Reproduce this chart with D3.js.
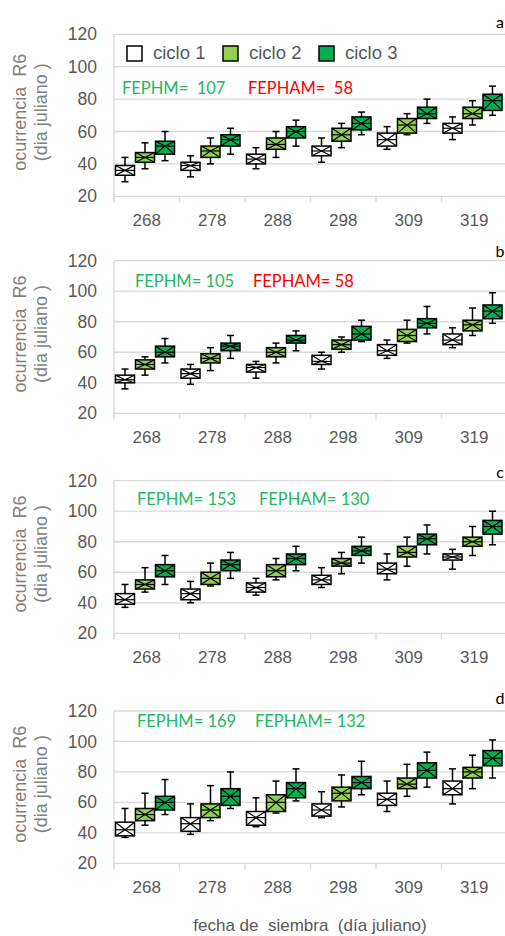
<!DOCTYPE html>
<html>
<head>
<meta charset="utf-8">
<script src="https://cdn.jsdelivr.net/npm/d3@7"></script>
<style>
  body { margin: 0; background: #fff; }
  svg text { white-space: pre; }
</style>
</head>
<body>
<div id="container"></div>
<script>
// categories (fecha de siembra) and series
const fechas = ["268", "278", "288", "298", "309", "319"]
const ciclos = ["ciclo 1", "ciclo 2", "ciclo 3"]
const yTicks = [20, 40, 60, 80, 100, 120]
const panelLetters = ["a", "b", "c", "d"]
const fephmLabels = ["FEPHM=  107", "FEPHM= 105", "FEPHM= 153", "FEPHM= 169"]
const fephamLabels = ["FEPHAM=  58", "FEPHAM= 58", "FEPHAM= 130", "FEPHAM= 132"]

// [min, q1, median, q3, max] per fecha
const a_c1 = [[29,33,36,39,44],[32,36,39,41,45],[37,40,43,46,50],[41,45,48,51,56],[49,51,55,59,63],[55,59,62,65,69]]
const a_c2 = [[37,41,44,47,53],[40,44,48,51,56],[44,49,52,56,60],[50,54,58,62,65],[58,59,64,68,71],[64,68,71,75,79]]
const a_c3 = [[42,46,51,54,60],[46,51,55,58,62],[51,56,60,63,67],[58,61,65,69,72],[65,68,71,75,80],[70,73,79,83,88]]

const b_c1 = [[36,40,42,45,49],[39,43,46,49,52],[43,47,50,52,54],[49,52,54,58,60],[56,58,61,65,68],[63,65,68,72,76]]
const b_c2 = [[45,49,52,55,57],[48,53,56,59,63],[53,57,60,63,66],[60,62,65,68,70],[66,67,71,75,81],[71,74,78,81,89]]
const b_c3 = [[53,57,60,64,69],[56,61,64,66,71],[61,66,68,71,74],[67,68,72,77,81],[72,76,79,82,90],[79,82,87,91,99]]

const c_c1 = [[37,39,42,46,52],[40,42,46,49,54],[45,47,50,53,56],[50,52,55,58,63],[55,59,62,66,72],[62,68,70,72,75]]
const c_c2 = [[47,49,52,55,63],[51,52,56,60,66],[55,57,61,65,69],[59,64,66,69,73],[64,70,73,77,83],[71,77,80,83,90]]
const c_c3 = [[52,57,61,65,71],[56,61,65,68,73],[61,65,69,72,77],[66,71,74,77,83],[72,78,82,85,91],[78,85,90,94,100]]

const d_c1 = [[37,38,42,47,56],[39,41,46,50,59],[44,45,50,54,63],[50,51,55,59,67],[54,58,62,66,74],[59,65,69,74,82]]
const d_c2 = [[45,48,52,56,66],[48,50,55,59,71],[53,54,60,65,74],[57,61,66,70,78],[64,69,72,76,85],[69,76,80,83,91]]
const d_c3 = [[52,55,60,64,75],[56,58,64,69,80],[61,63,69,73,82],[65,69,73,77,87],[70,76,81,86,93],[76,84,89,94,101]]

const panelData = [
    [a_c1, a_c2, a_c3],
    [b_c1, b_c2, b_c3],
    [c_c1, c_c2, c_c3],
    [d_c1, d_c2, d_c3]
]

const colors = ["#ffffff", "#92d050", "#00b050"]
const gray = "#595959"
const gridColor = "#d9d9d9"
const noteGreen = "#22b85f"

const W = 505, H = 936
const plotLeft = 114, plotRight = 507
const panels = [
    { top: 34.3, bottom: 196.3, letterY: 28, noteY: 90, fx: 122, hx: 248 },
    { top: 260.7, bottom: 413.3, letterY: 257, noteY: 283, fx: 135, hx: 253 },
    { top: 480.7, bottom: 633.3, letterY: 478, noteY: 501, fx: 137, hx: 259 },
    { top: 711, bottom: 863.3, letterY: 704, noteY: 723, fx: 137, hx: 255 }
]

const svg = d3.select("#container")
    .append("svg")
    .attr("width", W)
    .attr("height", H)
    .style("font-family", "'Liberation Sans', Arial, sans-serif")

const x = d3.scaleBand()
    .domain(fechas)
    .range([plotLeft, plotRight])
    .padding(0)

// boxes sit at the left of each band, leaving a small gap on the right
const xs = d3.scaleBand()
    .domain(ciclos)
    .range([1, x.bandwidth() - 4.5])
    .padding(0)

panels.forEach((p, pi) => {
    const y = d3.scaleLinear().domain([20, 120]).range([p.bottom, p.top])
    const g = svg.append("g")

    /* GRID */
    g.selectAll(".grid")
        .data(yTicks)
        .join("line")
        .attr("x1", plotLeft)
        .attr("x2", W)
        .attr("y1", d => y(d))
        .attr("y2", d => y(d))
        .attr("stroke", gridColor)
        .attr("stroke-width", 1.3)

    /* Y AXIS */
    const yAxis = g.append("g")
        .attr("transform", `translate(${plotLeft},0)`)
        .call(d3.axisLeft(y).tickValues(yTicks).tickSize(0).tickPadding(17))
    yAxis.select(".domain").attr("stroke", gridColor).attr("stroke-width", 1.3)
        .attr("d", `M0,${y(120)}V${p.bottom + 6}`)
    yAxis.selectAll("text")
        .attr("fill", gray)
        .style("font-size", "17.5px")
        .style("font-family", "'Liberation Sans', Arial, sans-serif")

    /* X AXIS */
    const xAxis = g.append("g")
        .attr("transform", `translate(0,${p.bottom})`)
        .call(d3.axisBottom(x).tickSize(0).tickPadding(18))
    xAxis.select(".domain").remove()
    xAxis.selectAll("text")
        .attr("fill", gray)
        .style("font-size", "17px")
        .style("font-family", "'Liberation Sans', Arial, sans-serif")
    g.selectAll(".sep")
        .data(fechas)
        .join("line")
        .attr("x1", d => x(d))
        .attr("x2", d => x(d))
        .attr("y1", p.bottom)
        .attr("y2", p.bottom + 6)
        .attr("stroke", gridColor)
        .attr("stroke-width", 1.3)

    /* Y TITLE */
    const ty = (p.top + p.bottom) / 2 - 3
    const title = g.append("text")
        .attr("transform", `translate(0,${ty}) rotate(-90)`)
        .attr("text-anchor", "middle")
        .attr("fill", "#7f7f7f")
        .style("font-size", "18px")
    title.append("tspan").attr("x", 0).attr("y", 26).text("ocurrencia  R6")
    title.append("tspan").attr("x", 0).attr("y", 47).text("(dia juliano )")

    /* PANEL LETTER */
    g.append("text")
        .attr("x", 500)
        .attr("y", p.letterY)
        .attr("text-anchor", "middle")
        .attr("fill", "#000")
        .style("font-family", "Lato, 'Open Sans', sans-serif")
        .style("font-size", "16px")
        .text(panelLetters[pi])

    /* NOTES */
    g.append("text")
        .attr("x", p.fx)
        .attr("y", p.noteY)
        .attr("dominant-baseline", "middle")
        .attr("fill", noteGreen)
        .style("font-family", "Lato, 'Open Sans', sans-serif")
        .style("font-size", "16.5px")
        .text(fephmLabels[pi])
    g.append("text")
        .attr("x", p.hx)
        .attr("y", p.noteY)
        .attr("dominant-baseline", "middle")
        .attr("fill", pi < 2 ? "#ff0000" : noteGreen)
        .style("font-family", "Lato, 'Open Sans', sans-serif")
        .style("font-size", "16.5px")
        .text(fephamLabels[pi])

    /* BOXES */
    panelData[pi].forEach((series, si) => {
        const bw = xs.bandwidth()
        const boxes = g.selectAll(null)
            .data(series.map((v, i) => ({ fecha: fechas[i], v })))
            .join("g")
            .attr("transform", d => `translate(${x(d.fecha) + xs(ciclos[si])},0)`)
        const cx = bw / 2
        boxes.append("line")
            .attr("x1", cx).attr("x2", cx)
            .attr("y1", d => y(d.v[4])).attr("y2", d => y(d.v[0]))
            .attr("stroke", "#000").attr("stroke-width", 1.5)
        boxes.selectAll(".cap")
            .data(d => [d.v[0], d.v[4]])
            .join("line")
            .attr("x1", cx - 3.5).attr("x2", cx + 3.5)
            .attr("y1", d => y(d)).attr("y2", d => y(d))
            .attr("stroke", "#000").attr("stroke-width", 1.5)
        boxes.append("rect")
            .attr("x", 0.5)
            .attr("width", bw - 1)
            .attr("y", d => y(d.v[3]))
            .attr("height", d => y(d.v[1]) - y(d.v[3]))
            .attr("fill", colors[si])
            .attr("stroke", "#000")
            .attr("stroke-width", 1.5)
        boxes.append("line")
            .attr("x1", 0.5).attr("x2", bw - 0.5)
            .attr("y1", d => y(d.v[2])).attr("y2", d => y(d.v[2]))
            .attr("stroke", "#000").attr("stroke-width", 1.2)
        // mean marker drawn corner to mean point
        boxes.append("path")
            .attr("d", d => {
                const m = y(d.v[2]), t = y(d.v[3]), b = y(d.v[1])
                return `M0.5,${t}L${cx},${m}L${bw - 0.5},${b}M${bw - 0.5},${t}L${cx},${m}L0.5,${b}`
            })
            .attr("fill", "none")
            .attr("stroke", "#000")
            .attr("stroke-width", 1.2)
    })
})

/* LEGEND (panel a) */
const legendX = [127, 223, 319]
const legend = svg.append("g")
ciclos.forEach((c, i) => {
    legend.append("rect")
        .attr("x", legendX[i])
        .attr("y", 46)
        .attr("width", 15)
        .attr("height", 15)
        .attr("fill", colors[i])
        .attr("stroke", "#000")
        .attr("stroke-width", 1.5)
    legend.append("text")
        .attr("x", legendX[i] + 26)
        .attr("y", 54)
        .attr("dominant-baseline", "middle")
        .attr("fill", gray)
        .style("font-size", "18.5px")
        .text(c)
})

/* X TITLE */
svg.append("text")
    .attr("x", 310)
    .attr("y", 927)
    .attr("text-anchor", "middle")
    .attr("dominant-baseline", "middle")
    .attr("fill", gray)
    .style("font-size", "17px")
    .text("fecha de  siembra  (día juliano)")
</script>
</body>
</html>
